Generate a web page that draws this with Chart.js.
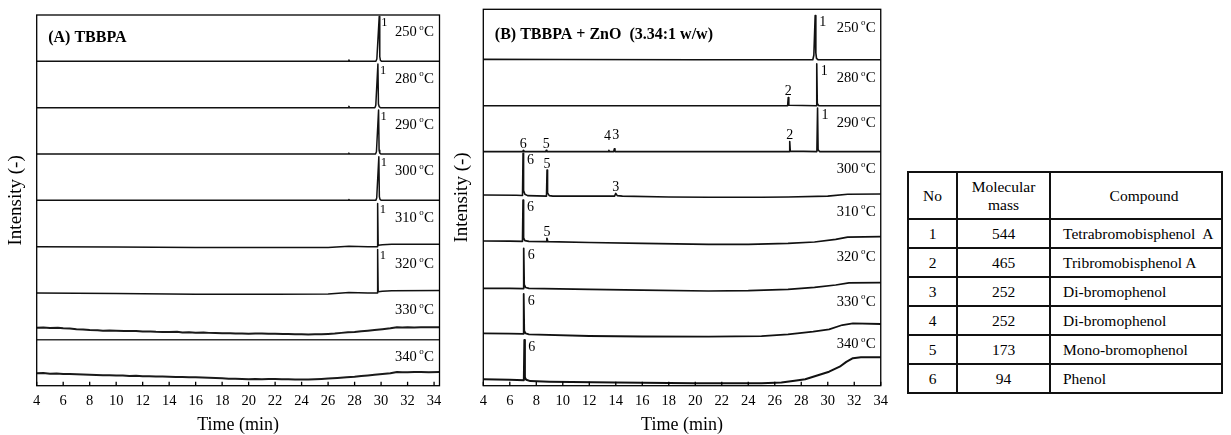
<!DOCTYPE html>
<html lang="en">
<head>
<meta charset="utf-8">
<title>TBBPA pyrolysis chromatograms</title>
<script src="https://cdn.jsdelivr.net/npm/chart.js@4.4.1/dist/chart.umd.min.js"></script>
<style>
  html, body { margin: 0; padding: 0; background: #fff; }
  body { position: relative; width: 1231px; height: 435px; overflow: hidden; }
  canvas { position: absolute; top: 0; }
  #chartA { left: 0; }
  #chartB { left: 445px; }
  #compounds {
    position: absolute; left: 907px; top: 171px;
    border-collapse: collapse;
    font: 15.5px "Liberation Serif", "Times New Roman", serif;
    color: #000;
  }
  #compounds th, #compounds td { border: 2px solid #111; padding: 0; }
  #compounds th { font-weight: normal; line-height: 18px; }
  #compounds tr.head { height: 47px; }
  #compounds tr.row { height: 29px; }
  #compounds .c0 { width: 47px; text-align: center; }
  #compounds .c1 { width: 91px; text-align: center; }
  #compounds .c2 { width: 158px; text-align: left; padding-left: 12px; }
  #compounds th.c2 { text-align: center; padding-left: 16px; width: 154px; }
</style>
</head>
<body>
<canvas id="chartA" width="450" height="435"></canvas>
<canvas id="chartB" width="450" height="435"></canvas>
<table id="compounds">
  <thead>
    <tr class="head"><th class="c0">No</th><th class="c1">Molecular<br>mass</th><th class="c2">Compound</th></tr>
  </thead>
  <tbody></tbody>
</table>
<script>
const FONT = '"Liberation Serif", "Times New Roman", serif';

// Retention-time axis (min)
const timeTicks = [4, 6, 8, 10, 12, 14, 16, 18, 20, 22, 24, 26, 28, 30, 32, 34];
// Pyrolysis temperatures, top trace first
const temperatures = ['250', '280', '290', '300', '310', '320', '330', '340'];

// (A) TBBPA: [retention time (min), intensity above the trace's own level]
const a250 = [[4, 0], [27.52, 0], [27.57, 0.03], [27.62, 0], [29.61, 0], [29.68, 0.05], [29.86, 0.97], [29.9, 0.1], [29.95, 0.02], [30.05, 0], [34.41, 0]];
const a280 = [[4, 0], [27.52, 0], [27.57, 0.03], [27.62, 0], [29.53, 0], [29.6, 0.05], [29.76, 0.94], [29.8, 0.08], [29.86, 0.02], [29.95, 0], [34.41, 0]];
const a290 = [[4, 0], [27.52, 0], [27.57, 0.02], [27.62, 0], [29.58, 0], [29.65, 0.05], [29.81, 0.95], [29.85, 0.08], [29.9, 0.02], [30, 0], [34.41, 0]];
const a300 = [[4, 0], [27.52, 0], [27.57, 0.02], [27.62, 0], [29.6, 0], [29.67, 0.05], [29.83, 0.94], [29.87, 0.08], [29.92, 0.02], [30.02, 0], [34.41, 0]];
const a310 = [[4, 0], [10, -0.005], [16, -0.015], [22, -0.02], [26, -0.015], [27.57, 0.01], [29, 0], [29.71, 0], [29.74, 0.93], [29.78, 0.03], [30.1, 0.04], [30.8, 0.05], [34.41, 0.055]];
const a320 = [[4, 0], [10, -0.01], [16, -0.025], [22, -0.028], [26, -0.02], [27.57, 0.01], [29, 0], [29.71, 0], [29.74, 0.94], [29.78, 0.03], [30.1, 0.04], [30.8, 0.05], [34.41, 0.055]];
const a330 = [[4, 0.25], [4.5, 0.255], [5, 0.245], [5.6, 0.25], [6, 0.24], [6.5, 0.235], [7, 0.22], [7.5, 0.215], [8, 0.2], [8.6, 0.195], [9, 0.188], [9.5, 0.192], [10, 0.185], [10.6, 0.18], [11, 0.178], [11.5, 0.182], [12, 0.17], [12.6, 0.172], [13, 0.165], [13.5, 0.16], [14, 0.158], [14.6, 0.162], [15, 0.15], [15.5, 0.152], [16, 0.144], [16.6, 0.146], [17, 0.14], [17.5, 0.136], [18, 0.133], [18.6, 0.13], [19, 0.126], [19.5, 0.124], [20, 0.122], [20.5, 0.127], [21, 0.124], [21.5, 0.12], [22, 0.12], [22.6, 0.118], [23, 0.115], [23.5, 0.112], [24, 0.11], [24.5, 0.106], [25, 0.109], [25.5, 0.112], [26, 0.118], [26.5, 0.126], [27, 0.14], [27.5, 0.152], [28, 0.16], [28.5, 0.175], [29, 0.186], [29.5, 0.2], [30.1, 0.218], [30.7, 0.239], [31.2, 0.26], [31.6, 0.258], [32, 0.262], [32.5, 0.258], [33, 0.26], [33.5, 0.264], [34, 0.262], [34.41, 0.26]];
const a340 = [[4, 0.268], [4.5, 0.272], [5, 0.26], [5.5, 0.262], [6, 0.255], [6.5, 0.25], [7, 0.245], [7.5, 0.242], [8, 0.237], [8.5, 0.232], [9, 0.228], [9.5, 0.226], [10, 0.22], [10.5, 0.218], [11, 0.212], [11.5, 0.214], [12, 0.205], [12.5, 0.204], [13, 0.2], [13.5, 0.198], [14, 0.195], [14.5, 0.19], [15, 0.188], [15.5, 0.185], [16, 0.181], [16.5, 0.176], [17, 0.172], [17.5, 0.166], [18, 0.16], [18.5, 0.152], [19, 0.148], [19.5, 0.142], [20, 0.138], [20.5, 0.142], [21, 0.14], [21.5, 0.145], [22, 0.142], [22.5, 0.14], [23, 0.138], [23.5, 0.134], [24, 0.136], [24.5, 0.134], [25, 0.138], [25.5, 0.145], [26, 0.155], [26.7, 0.168], [27.4, 0.181], [28, 0.195], [28.5, 0.21], [29, 0.222], [29.5, 0.235], [30.1, 0.25], [30.7, 0.268], [31.2, 0.296], [31.6, 0.292], [32, 0.292], [32.5, 0.296], [33, 0.295], [33.6, 0.292], [34.41, 0.296]];

// (A) labelled peaks: [peak number, retention time (min)]
const a250Peaks = [[1, 29.86]];
const a280Peaks = [[1, 29.76]];
const a290Peaks = [[1, 29.81]];
const a300Peaks = [[1, 29.83]];
const a310Peaks = [[1, 29.74]];
const a320Peaks = [[1, 29.74]];
const a330Peaks = [];
const a340Peaks = [];

// (B) TBBPA + ZnO (3.34:1 w/w)
const b250 = [[4, 0.01], [10, 0.005], [20, 0], [28.87, 0], [28.95, 0.1], [29.05, 0.965], [29.1, 0.15], [29.15, 0.03], [29.28, 0], [34, 0]];
const b280 = [[4, 0], [26.97, 0], [27.02, 0.18], [27.06, 0.01], [29.12, 0], [29.17, 0.91], [29.21, 0.05], [29.32, 0], [34, 0]];
const b290 = [[4, 0], [6.98, 0], [7.02, 0.025], [7.06, 0], [8.71, 0], [8.75, 0.03], [8.8, 0], [13.44, 0], [13.48, 0.03], [13.52, 0], [13.84, 0], [13.89, 0.06], [13.94, 0], [27.08, 0], [27.13, 0.22], [27.17, 0.01], [29.18, 0], [29.23, 0.95], [29.27, 0.04], [29.38, 0], [34, 0]];
const b300 = [[4, 0.054], [6.5, 0.05], [6.96, 0.045], [7.0, 0.963], [7.04, 0.15], [7.14, 0.07], [7.34, 0.04], [8.77, 0.03], [8.81, 0.6], [8.85, 0.1], [8.98, 0.04], [9.25, 0.03], [13.91, 0.03], [14.0, 0.09], [14.11, 0.04], [14.5, 0.03], [18, 0.01], [21, 0.004], [25, 0.005], [27, 0.01], [30, 0.03], [31.5, 0.07], [34, 0.076]];
const b310 = [[4, 0.052], [6, 0.05], [6.96, 0.045], [7.0, 0.945], [7.04, 0.12], [7.14, 0.06], [7.44, 0.045], [8.74, 0.04], [8.8, 0.11], [8.87, 0.04], [12, 0.02], [16, 0], [21, -0.02], [24, -0.02], [27, 0], [29, 0.03], [30.6, 0.089], [31.5, 0.135], [34, 0.146]];
const b320 = [[4, 0.022], [6, 0.02], [7.01, 0.015], [7.05, 0.893], [7.09, 0.1], [7.19, 0.04], [7.45, 0.02], [12, 0], [16, -0.02], [21, -0.037], [24, -0.03], [27, 0], [29, 0.04], [30.6, 0.094], [31.6, 0.14], [34, 0.144]];
const b330 = [[4, 0.041], [6, 0.035], [7.01, 0.03], [7.05, 0.898], [7.09, 0.1], [7.19, 0.04], [7.45, 0.02], [12, -0.017], [16, -0.028], [21, -0.033], [25, -0.02], [27, 0.02], [28.9, 0.076], [30.1, 0.128], [31.1, 0.222], [31.9, 0.257], [34, 0.244]];
const b340 = [[4, 0.039], [6, 0.03], [7.06, 0.02], [7.1, 0.895], [7.14, 0.08], [7.24, 0.03], [7.55, 0], [9, -0.013], [14, -0.03], [20, -0.048], [25, -0.048], [26.5, -0.03], [27.5, 0.01], [28.3, 0.04], [28.9, 0.095], [30.1, 0.205], [30.9, 0.314], [31.4, 0.42], [31.9, 0.5], [32.5, 0.52], [34, 0.52]];

// (B) labelled peaks
const b250Peaks = [[1, 29.05]];
const b280Peaks = [[2, 27.02], [1, 29.17]];
const b290Peaks = [[6, 7.02], [5, 8.75], [4, 13.48], [3, 13.89], [2, 27.13], [1, 29.23]];
const b300Peaks = [[6, 7.0], [5, 8.81], [3, 14.0]];
const b310Peaks = [[6, 7.0], [5, 8.8]];
const b320Peaks = [[6, 7.05]];
const b330Peaks = [[6, 7.05]];
const b340Peaks = [[6, 7.1]];

// Compound table
const compoundNo = [1, 2, 3, 4, 5, 6];
const molecularMass = [544, 465, 252, 252, 173, 94];
const compoundName = ['Tetrabromobisphenol\u00a0 A', 'Tribromobisphenol A', 'Di-bromophenol', 'Di-bromophenol', 'Mono-bromophenol', 'Phenol'];

const tbody = document.querySelector('#compounds tbody');
compoundNo.forEach((no, i) => {
  const tr = document.createElement('tr');
  tr.className = 'row';
  [[no, 'c0'], [molecularMass[i], 'c1'], [compoundName[i], 'c2']].forEach(([text, cls]) => {
    const td = document.createElement('td');
    td.className = cls;
    td.textContent = text;
    tr.appendChild(td);
  });
  tbody.appendChild(tr);
});

// Frame, inward ticks, panel title, temperature and peak labels
function peakTop(data, t) {
  let best = -Infinity;
  data.forEach(p => { if (Math.abs(p.x - t) <= 0.1 && p.y > best) best = p.y; });
  return best;
}

function drawTemperature(ctx, text, right, baseline) {
  ctx.textAlign = 'left';
  ctx.textBaseline = 'alphabetic';
  ctx.font = `15px ${FONT}`;
  const wC = ctx.measureText('C').width;
  ctx.font = `9px ${FONT}`;
  const wo = ctx.measureText('o').width;
  ctx.font = `14.5px ${FONT}`;
  const wN = ctx.measureText(text).width;
  const xC = right - wC;
  const xo = xC - wo - 0.3;
  const xN = xo - 2.5 - wN;
  ctx.fillText(text, xN, baseline);
  ctx.font = `9px ${FONT}`;
  ctx.fillText('o', xo, baseline - 6.5);
  ctx.font = `15px ${FONT}`;
  ctx.fillText('C', xC, baseline);
}

const decor = {
  id: 'decor',
  afterDraw(chart, args, o) {
    const { ctx, chartArea: ca, scales: { x, y } } = chart;
    const n = chart.data.datasets.length;
    ctx.save();
    ctx.strokeStyle = '#000';
    ctx.lineWidth = 1.3;
    ctx.strokeRect(ca.left, ca.top, ca.right - ca.left, ca.bottom - ca.top);
    ctx.beginPath();
    x.ticks.forEach(t => {
      const px = x.getPixelForValue(t.value);
      ctx.moveTo(px, ca.bottom);
      ctx.lineTo(px, ca.bottom - 4);
    });
    ctx.stroke();

    ctx.fillStyle = '#000';
    ctx.font = `bold 16px ${FONT}`;
    ctx.textAlign = 'left';
    ctx.textBaseline = 'alphabetic';
    ctx.fillText(o.title, ca.left + 11.5, ca.top + o.titleDy);

    temperatures.forEach((temp, i) => {
      const level = n - 1 - i;
      drawTemperature(ctx, temp, ca.right - o.tempInset, y.getPixelForValue(level + o.tempLift[i]));
    });

    ctx.font = `${o.tagSize}px ${FONT}`;
    o.peaks.forEach((list, i) => {
      const level = n - 1 - i;
      const data = chart.data.datasets[i].data;
      list.forEach(([no, t]) => {
        const top = peakTop(data, t);
        const px = x.getPixelForValue(t);
        const py = y.getPixelForValue(top);
        if (top - level > 0.7) {
          ctx.textAlign = 'left';
          ctx.textBaseline = 'top';
          ctx.fillText(String(no), px + o.tagDx, py);
        } else {
          const shift = (o.tagShift && o.tagShift[temperatures[i] + ':' + no]) || [0, 0];
          ctx.textAlign = 'center';
          ctx.textBaseline = 'alphabetic';
          ctx.fillText(String(no), px + shift[0], py - 2 - shift[1]);
        }
      });
    });
    ctx.restore();
  }
};

function stackedChromatograms(canvasId, cfg) {
  const n = cfg.traces.length;
  const datasets = cfg.traces.map((pts, i) => ({
    label: temperatures[i] + ' °C',
    data: pts.map(([t, v]) => ({ x: t, y: v + (n - 1 - i) })),
    borderColor: cfg.colors[i],
    borderWidth: cfg.lineWidths[i],
    pointRadius: 0,
    tension: 0,
    borderJoinStyle: 'round',
    fill: false
  }));
  return new Chart(document.getElementById(canvasId), {
    type: 'line',
    data: { datasets },
    options: {
      responsive: false,
      animation: false,
      devicePixelRatio: 1,
      events: [],
      layout: { padding: cfg.padding },
      plugins: { legend: { display: false }, tooltip: { enabled: false }, decor: cfg.decor },
      scales: {
        x: {
          type: 'linear', min: 4, max: cfg.xMax,
          afterBuildTicks: s => { s.ticks = timeTicks.map(v => ({ value: v })); },
          afterFit: s => { s.height = cfg.xAxisHeight; },
          grid: { display: false, drawTicks: false },
          border: { display: false },
          ticks: { color: '#000', font: { family: FONT, size: 14.5 }, padding: 7, maxRotation: 0, autoSkip: false },
          title: { display: true, text: 'Time (min)', color: '#000', font: { family: FONT, size: 18 }, padding: { top: 0, bottom: -1 } }
        },
        y: {
          type: 'linear', min: cfg.yMin, max: cfg.yMax,
          afterFit: s => { s.width = cfg.yAxisWidth; },
          ticks: { display: false, stepSize: 1 },
          grid: {
            display: cfg.separators.length > 0, drawTicks: false, lineWidth: 1.6,
            color: c => (c.tick && cfg.separators.includes(c.tick.value)) ? '#333' : 'rgba(0,0,0,0)'
          },
          border: { display: false },
          title: { display: true, text: 'Intensity (-)', color: '#000', font: { family: FONT, size: 19 }, padding: { top: cfg.yTitlePad, bottom: 0 } }
        }
      }
    },
    plugins: [decor]
  });
}

stackedChromatograms('chartA', {
  traces: [a250, a280, a290, a300, a310, a320, a330, a340],
  colors: ['#111', '#111', '#111', '#111', '#111', '#111', '#1a1a1a', '#1a1a1a'],
  lineWidths: [1.5, 1.5, 1.5, 1.5, 1.5, 1.5, 2.0, 2.0],
  xMax: 34.41, yMin: 0, yMax: 8,
  separators: [1],
  padding: { left: 0, top: 15, right: 10.5, bottom: 0 },
  xAxisHeight: 49.3, yAxisWidth: 36.7, yTitlePad: 4.5,
  decor: {
    title: '(A) TBBPA', titleDy: 27,
    tempInset: 5.5, tempLift: [0.54, 0.54, 0.54, 0.54, 0.54, 0.54, 0.54, 0.54],
    peaks: [a250Peaks, a280Peaks, a290Peaks, a300Peaks, a310Peaks, a320Peaks, a330Peaks, a340Peaks],
    tagSize: 12.5, tagDx: 2
  }
});

stackedChromatograms('chartB', {
  traces: [b250, b280, b290, b300, b310, b320, b330, b340],
  colors: ['#111', '#111', '#111', '#111', '#111', '#111', '#111', '#111'],
  lineWidths: [1.6, 1.6, 1.6, 1.6, 1.7, 1.7, 1.8, 2.0],
  xMax: 34, yMin: -0.1, yMax: 8.1,
  separators: [],
  padding: { left: 0, top: 9.3, right: 10, bottom: 0 },
  xAxisHeight: 49.3, yAxisWidth: 38.3, yTitlePad: 6,
  decor: {
    title: '(B) TBBPA + ZnO  (3.34:1 w/w)', titleDy: 29.5,
    tempInset: 5, tempLift: [0.61, 0.51, 0.53, 0.53, 0.6, 0.62, 0.64, 0.72],
    peaks: [b250Peaks, b280Peaks, b290Peaks, b300Peaks, b310Peaks, b320Peaks, b330Peaks, b340Peaks],
    tagSize: 14, tagDx: 4,
    tagShift: { '290:4': [-1.5, 8], '290:3': [1.5, 8] }
  }
});
</script>
</body>
</html>
